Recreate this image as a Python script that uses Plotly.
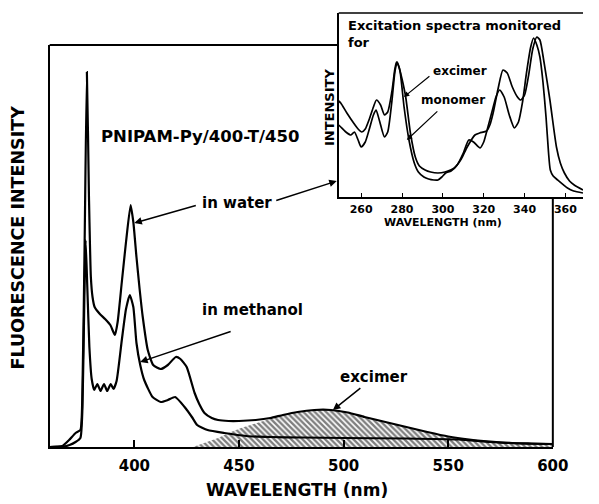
import plotly.graph_objects as go

# ---------------- data ----------------
# main emission spectra (wavelength nm, intensity a.u.)
water_nm = [359.5, 363, 365.6, 368.8, 371.9, 374.2, 375.2, 376.2, 377.3, 378.3, 379.2, 380,
            381, 383.5, 386, 388.5, 390.7, 392, 394, 396, 398.2, 399.5, 401, 402.5, 404,
            406.4, 409, 412.6, 416, 419.8, 422, 425, 428.8, 431, 433.5, 437, 440, 445,
            450, 458, 465, 471, 478, 486, 494, 502, 510, 520, 530, 540, 550, 560, 570,
            580, 590, 600]
water_int = [0, 0.3, 1, 7, 14, 17, 60, 200, 375, 250, 170, 150,
             140, 133, 128, 122, 112, 125, 165, 205, 242, 225, 190, 158, 130,
             97, 82, 78, 82, 90, 88, 80, 54, 43, 34, 29, 27, 26,
             26, 27, 29, 32, 35, 37, 37, 34.5, 30, 25, 20, 15, 10.5, 7.5, 5.5,
             4, 3.5, 3]

methanol_nm = [359.5, 366, 369, 371.9, 374.2, 375.2, 376.1, 376.7, 377.5, 378.5, 379.6,
               380.8, 382.3, 383.8, 385.5, 387, 388.7, 390, 391.5, 394, 396, 397.8,
               399.5, 401, 402.8, 404.7, 408.7, 412.6, 416, 419.5, 424, 427.5, 430,
               435, 443, 453.5, 465, 480, 500, 530, 555, 570, 585, 600]
methanol_int = [0, 0.3, 2, 5, 9, 40, 150, 207, 160, 100, 68,
                57, 63, 56, 63, 56, 63, 58, 66, 107, 138, 152,
                140, 104, 82, 67, 50, 45, 47, 50, 40, 30, 22,
                17, 14, 11, 10, 9.5, 9, 8.5, 7.5, 5, 3.5, 3]

excimer_nm = [428, 432, 436, 440, 445, 451, 457, 463, 469, 476, 483, 490, 497, 505,
              513, 520, 528, 536, 544, 551, 558, 566, 574, 585, 600]
excimer_int = [0, 3, 6, 9, 14, 19, 23, 27, 31, 34.5, 36.5, 37, 36, 33,
               29, 25, 21, 17, 13, 9.5, 7, 5, 4, 3, 2.5]

# inset: excitation spectra
exc_nm = [249, 250, 253, 256.3, 258.5, 260.3, 262, 264, 266, 267.5, 269.5, 271.4, 273,
          275, 276.5, 277.3, 278.5, 280, 281.8, 284.1, 286.5, 288.5, 291.3, 294, 297.6,
          301, 305.6, 309, 311.9, 315.7, 318, 321.4, 323, 324.6, 327, 329.4, 331.5, 334,
          336.5, 338.1, 340, 342, 344, 346, 347.5, 349.5, 352.4, 355.6, 357.5, 359.5,
          362, 364.3, 368.6]
exc_int = [96, 94, 84, 74, 68, 65, 68, 78, 90, 97, 92, 82, 85,
           105, 128, 135, 130, 118, 100, 64, 40, 31, 27, 25, 24,
           25, 29, 38, 50, 62, 64, 66, 72, 84, 108, 127, 124, 110,
           100, 97, 102, 122, 148, 160, 157, 135, 97, 50, 34, 24,
           16, 12, 7]

mono_nm = [249, 250, 252.5, 255, 256.7, 258.5, 260, 262, 264, 266, 267.3, 269, 271.4,
           273, 275, 276.5, 277.6, 279, 281, 283.4, 286, 288, 290.7, 293, 295.6, 297.6,
           299.5, 301.4, 304, 307, 310, 312.7, 315, 318.2, 320, 321.4, 324, 326, 327.8,
           330, 332.5, 335, 337, 339, 341, 343, 344.4, 346, 347.5, 349, 350.5, 351.7,
           352.6, 354, 356.2, 361, 364, 368.6]
mono_int = [72, 70, 65, 62, 65, 57, 50, 55, 68, 82, 87, 76, 60,
            65, 95, 125, 135, 126, 90, 57, 34, 25, 20, 18, 17, 17,
            20, 24, 26, 32, 44, 57, 55, 49, 55, 65, 85, 100, 107,
            100, 82, 69, 75, 95, 125, 150, 159, 152, 140, 115, 80, 45,
            27, 21, 17, 9, 6, 4]

main_ticks = [400, 450, 500, 550, 600]
main_ticktext = ["400", "450", "500", "550", "600"]
inset_ticks = [260, 280, 300, 320, 340, 360]
inset_ticktext = ["260", "280", "300", "320", "340", "360"]

# ---------------- figure ----------------
W, H = 599, 504
FONT = "DejaVu Sans"


def px(x):
    return x / W


def py(y):
    return 1 - y / H


fig = go.Figure()

fig.add_trace(go.Scatter(
    x=excimer_nm, y=excimer_int, mode="lines", line=dict(width=0, color="black"),
    fill="tozeroy",
    fillpattern=dict(shape="\\", fgcolor="black", bgcolor="white", size=4, solidity=0.6),
    xaxis="x", yaxis="y", hoverinfo="skip"))
fig.add_trace(go.Scatter(x=methanol_nm, y=methanol_int, mode="lines",
                         line=dict(color="black", width=2.2, shape="spline", smoothing=0.5),
                         xaxis="x", yaxis="y"))
fig.add_trace(go.Scatter(x=water_nm, y=water_int, mode="lines",
                         line=dict(color="black", width=2.2, shape="spline", smoothing=0.5),
                         xaxis="x", yaxis="y"))

fig.add_trace(go.Scatter(x=exc_nm, y=exc_int, mode="lines",
                         line=dict(color="black", width=1.7, shape="spline", smoothing=0.6),
                         xaxis="x2", yaxis="y2"))
fig.add_trace(go.Scatter(x=mono_nm, y=mono_int, mode="lines",
                         line=dict(color="black", width=1.7, shape="spline", smoothing=0.6),
                         xaxis="x2", yaxis="y2"))

axis_common = dict(showgrid=False, zeroline=False, showline=True, linecolor="black",
                   mirror=False, fixedrange=True)

fig.update_layout(
    width=W, height=H, margin=dict(l=0, r=0, t=0, b=0),
    paper_bgcolor="white", plot_bgcolor="white", showlegend=False,
    xaxis=dict(domain=[px(51), px(568)], range=[359.5, 600], anchor="y",
               tickvals=main_ticks, ticktext=main_ticktext, ticks="inside", ticklen=7,
               tickwidth=1.5, tickcolor="black", linewidth=2,
               tickfont=dict(family=FONT, size=15, color="black", weight="bold"),
               ticklabelstandoff=4, **axis_common),
    yaxis=dict(domain=[py(447), py(45)], range=[0, 402], anchor="x",
               showticklabels=False, ticks="", linewidth=2, **axis_common),
    xaxis2=dict(domain=[px(348), 1.0], range=[249, 368.6], anchor="y2",
                tickvals=inset_ticks, ticktext=inset_ticktext, ticks="inside", ticklen=4,
                tickwidth=1.2, tickcolor="black", linewidth=1.6,
                tickfont=dict(family=FONT, size=11, color="black", weight="bold"),
                ticklabelstandoff=1, **axis_common),
    yaxis2=dict(domain=[py(197), py(13)], range=[0, 184], anchor="x2",
                showticklabels=False, ticks="", linewidth=1.6, **axis_common),
)

# frame pieces
fig.add_shape(type="line", xref="paper", yref="paper", x0=px(51), x1=px(348), y0=py(45), y1=py(45),
              line=dict(color="black", width=2))
fig.add_shape(type="line", xref="paper", yref="paper", x0=px(568), x1=px(568), y0=py(197), y1=py(447),
              line=dict(color="black", width=2))
fig.add_shape(type="line", xref="paper", yref="paper", x0=px(348), x1=1.0, y0=py(13), y1=py(13),
              line=dict(color="black", width=1.6))


def text(t, x, y, size, xanchor="left", yanchor="middle", angle=0, align="left"):
    fig.add_annotation(text=t, x=px(x), y=py(y), xref="paper", yref="paper",
                       xanchor=xanchor, yanchor=yanchor, showarrow=False, textangle=angle,
                       align=align,
                       font=dict(family=FONT, size=size, color="black", weight="bold"))


def arrow(hx, hy, tx, ty, width=1.5, size=1.0):
    fig.add_annotation(text="", x=px(hx), y=py(hy), xref="paper", yref="paper",
                       ax=tx - hx, ay=ty - hy, axref="pixel", ayref="pixel",
                       showarrow=True, arrowhead=2, arrowsize=size, arrowwidth=width,
                       arrowcolor="black")


# main texts
text("FLUORESCENCE INTENSITY", 18, 238, 17.5, xanchor="center", angle=-90)
text("WAVELENGTH (nm)", 305, 490, 17, xanchor="center")
text("PNIPAM-Py/400-T/450", 102, 137, 16.5)
text("in water", 206, 203, 15)
text("in methanol", 206, 310, 15)
text("excimer", 384, 377, 15, xanchor="center")
arrow(138, 223, 201, 205)
arrow(346, 181, 284, 201)
arrow(144, 362, 236, 331)
arrow(342, 410, 371, 387)

# inset texts
text("Excitation spectra monitored<br>for", 355, 16, 13, yanchor="top")
text("INTENSITY", 338, 107, 13, xanchor="center", angle=-90)
text("WAVELENGTH (nm)", 455, 222, 11, xanchor="center")
text("excimer", 443, 71, 12)
text("monomer", 430, 100, 12)
arrow(415, 97, 442, 75, width=1.2, size=0.9)
arrow(418, 140, 450, 110, width=1.2, size=0.9)

fig.write_html("out.html")
